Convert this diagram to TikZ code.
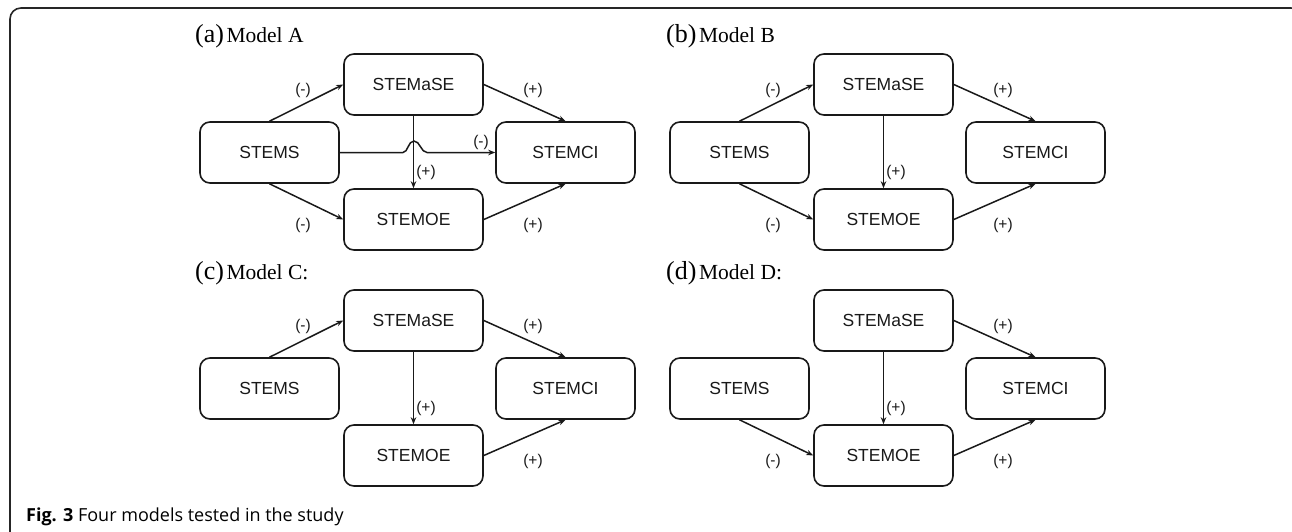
\documentclass[tikz,border=0pt]{standalone}
\usepackage{fontspec}
\setmainfont{Liberation Serif}
\newfontfamily\arialf{Liberation Sans}
\newfontfamily\capf{Open Sans}
\usetikzlibrary{arrows.meta,calc}
\newcommand\mytitle[2]{{\fontsize{26}{26}\selectfont(#1)}\hspace{2.5pt}{\fontsize{21.5}{22}\selectfont Model #2}}
\tikzset{
  boxnode/.style={draw=black!90, line width=1.6pt, rounded corners=10pt,
    minimum width=139pt, minimum height=61pt, inner sep=0pt,
    font=\arialf\fontsize{17.5}{18}\selectfont, text=black!90},
  conn/.style={draw=black!90, line width=1.5pt, -{Stealth[length=7pt,width=5.5pt]}},
  lbl/.style={font=\arialf\fontsize{15.5}{16}\selectfont, inner sep=0pt, text=black!90},
  ttl/.style={anchor=base west, inner sep=0pt}
}
\begin{document}
\begin{tikzpicture}[x=1pt,y=-1pt]
\useasboundingbox (0,0) rectangle (1292,532);
\begin{scope}
\clip (0,0) rectangle (1292,532);
\draw[black!85, line width=1.6pt, rounded corners=11pt] (10,8) rectangle (1302,545);
\end{scope}

\foreach \p/\dx/\dy in {a/0/0,b/470/0,c/0/236,d/470/236}{
  \begin{scope}[shift={(\dx,\dy)}]
    \node[boxnode] (\p S) at (269.5,152.5) {STEMS};
    \node[boxnode] (\p A) at (413.5,84.5) {STEMaSE};
    \node[boxnode] (\p C) at (565.5,152.5) {STEMCI};
    \node[boxnode] (\p O) at (413.5,219.5) {STEMOE};
  \end{scope}
}

% titles
\node[ttl] (ta) at (195,43) {\mytitle{a}{A}};
\node[ttl] (tb) at (666,43) {\mytitle{b}{B}};
\node[ttl] (tc) at (195,279) {\mytitle{c}{C:}};
\node[ttl] (td) at (666,279) {\mytitle{d}{D:}};

% panel a
\draw[conn] (aS.north) -- (aA.west);
\draw[conn] (aA.east) -- (aC.north);
\draw[conn] (aS.south) -- (aO.west);
\draw[conn] (aO.east) -- (aC.south);
\draw[conn] (aA.south) -- (aO.north);
\coordinate (h1) at (403,152.5);
\coordinate (h2) at (414,141);
\coordinate (h3) at (427,152.5);
\draw[conn] (aS.east) -- (h1) .. controls (408,152.5) and (408,141) .. (h2) .. controls (420,141) and (421,152.5) .. (h3) -- (aC.west);
\node[lbl] (la1) at (303,90) {(-)};
\node[lbl] (la2) at (533,90) {(+)};
\node[lbl] (la3) at (303,225) {(-)};
\node[lbl] (la4) at (533,225) {(+)};
\node[lbl] (la5) at (426,172) {(+)};
\node[lbl] (la6) at (481,142) {(-)};

% panel b
\draw[conn] (bS.north) -- (bA.west);
\draw[conn] (bA.east) -- (bC.north);
\draw[conn] (bS.south) -- (bO.west);
\draw[conn] (bO.east) -- (bC.south);
\draw[conn] (bA.south) -- (bO.north);
\node[lbl] (lb1) at (773,90) {(-)};
\node[lbl] (lb2) at (1003,90) {(+)};
\node[lbl] (lb3) at (773,225) {(-)};
\node[lbl] (lb4) at (1003,225) {(+)};
\node[lbl] (lb5) at (896,172) {(+)};

% panel c
\draw[conn] (cS.north) -- (cA.west);
\draw[conn] (cA.east) -- (cC.north);
\draw[conn] (cO.east) -- (cC.south);
\draw[conn] (cA.south) -- (cO.north);
\node[lbl] (lc1) at (303,326) {(-)};
\node[lbl] (lc2) at (533,326) {(+)};
\node[lbl] (lc4) at (533,461) {(+)};
\node[lbl] (lc5) at (426,408) {(+)};

% panel d
\draw[conn] (dA.east) -- (dC.north);
\draw[conn] (dS.south) -- (dO.west);
\draw[conn] (dO.east) -- (dC.south);
\draw[conn] (dA.south) -- (dO.north);
\node[lbl] (ld2) at (1003,326) {(+)};
\node[lbl] (ld3) at (773,461) {(-)};
\node[lbl] (ld4) at (1003,461) {(+)};
\node[lbl] (ld5) at (896,408) {(+)};

% caption
\node[anchor=base west, inner sep=0pt, font=\capf\fontsize{18}{18}\selectfont] (cap) at (26,521) {\textbf{Fig. 3} Four models tested in the study};
\end{tikzpicture}
\end{document}
